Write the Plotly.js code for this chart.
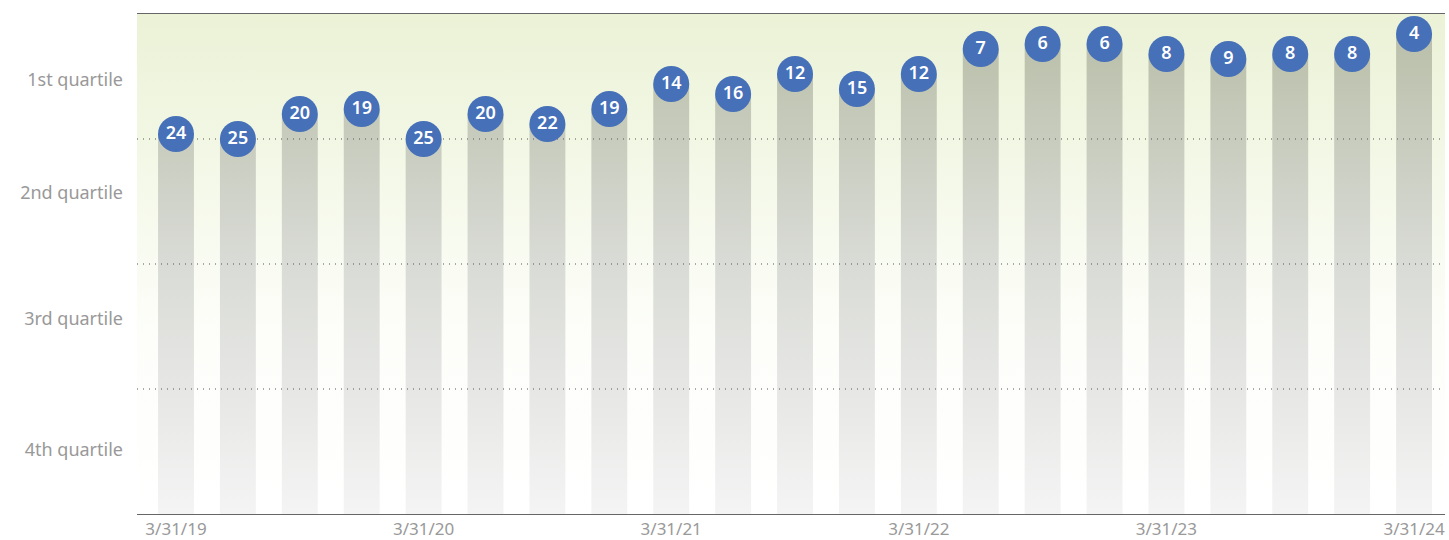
<!DOCTYPE html>
<html>
<head>
<meta charset="utf-8">
<script src="https://cdn.plot.ly/plotly-3.0.1.min.js"></script>
<style>
html,body{margin:0;padding:0;background:#fff;}
#chart{width:1449px;height:540px;}
</style>
</head>
<body>
<div id="chart"></div>
<script>
// Quarter-end dates (category labels)
const quarters = ["3/31/19","6/30/19","9/30/19","12/31/19","3/31/20","6/30/20","9/30/20","12/31/20",
  "3/31/21","6/30/21","9/30/21","12/31/21","3/31/22","6/30/22","9/30/22","12/31/22",
  "3/31/23","6/30/23","9/30/23","12/31/23","3/31/24"];
// Percentile rank (lower = better)
const ranks = [24,25,20,19,25,20,22,19,14,16,12,15,12,7,6,6,8,9,8,8,4];
const xTickLabels = ["3/31/19","3/31/20","3/31/21","3/31/22","3/31/23","3/31/24"];
const quartileLabels = ["1st quartile","2nd quartile","3rd quartile","4th quartile"];
const quartileLabelPos = [13.2, 35.8, 61, 87.2];
const quartileBreaks = [25, 50, 75];

const idx = quarters.map((q, i) => i);
const xRange = [-0.63, 20.5];

const traces = [];
traces.push({
  type: "bar",
  x: idx,
  y: ranks.map(r => r - 100),
  base: 100,
  width: 0.58,
  marker: {color: "#c8cbc2"},
  hoverinfo: "skip",
  showlegend: false
});
quartileBreaks.forEach(b => {
  traces.push({
    type: "scatter", mode: "lines",
    x: xRange, y: [b, b],
    line: {color: "#555", width: 1.2, dash: "1px,5px"},
    hoverinfo: "skip", showlegend: false
  });
});
traces.push({
  type: "scatter",
  mode: "markers+text",
  x: idx,
  y: ranks,
  text: ranks.map(String),
  textposition: "middle center",
  textfont: {family: "Noto Sans, sans-serif", size: 18, color: "#ffffff", weight: 600},
  marker: {size: 36, color: "#4670b8", line: {width: 0}},
  hoverinfo: "skip",
  showlegend: false
});

const layout = {
  width: 1449, height: 540,
  margin: {l: 137, r: 4, t: 14, b: 26},
  paper_bgcolor: "#ffffff",
  plot_bgcolor: "#f4f7ea",
  font: {family: "Noto Sans, sans-serif", color: "#999"},
  xaxis: {
    type: "linear",
    range: xRange,
    tickvals: [0, 4, 8, 12, 16, 20],
    ticktext: xTickLabels,
    showgrid: false, zeroline: false,
    showline: true, mirror: true, linecolor: "#666", linewidth: 1,
    ticks: "",
    tickfont: {size: 17, color: "#999"}
  },
  yaxis: {
    range: [100, 0],
    tickvals: quartileLabelPos,
    ticktext: quartileLabels,
    showgrid: false, zeroline: false, showline: false,
    ticks: "", ticklen: 0,
    ticklabelstandoff: 13,
    tickfont: {size: 18, color: "#999"}
  },
  showlegend: false
};

Plotly.newPlot("chart", traces, layout, {displayModeBar: false, staticPlot: true}).then(gd => {
  const svg = gd.querySelector("svg.main-svg");
  const ns = "http://www.w3.org/2000/svg";
  let defs = svg.querySelector("defs");
  if (!defs) { defs = document.createElementNS(ns, "defs"); svg.insertBefore(defs, svg.firstChild); }
  function grad(id, stops, units, y1, y2) {
    const g = document.createElementNS(ns, "linearGradient");
    g.setAttribute("id", id);
    g.setAttribute("x1", "0"); g.setAttribute("x2", "0");
    g.setAttribute("y1", y1); g.setAttribute("y2", y2);
    g.setAttribute("gradientUnits", units);
    stops.forEach(s => {
      const st = document.createElementNS(ns, "stop");
      st.setAttribute("offset", s[0]);
      st.setAttribute("stop-color", s[1]);
      g.appendChild(st);
    });
    defs.appendChild(g);
  }
  const plotH = 540 - 14 - 26;
  grad("barGrad", [[0, "#b7bda6"], [0.5, "#d9dbd6"], [1, "#f4f4f4"]], "userSpaceOnUse", "0", String(plotH));
  grad("bgGrad", [[0, "#ebf2d6"], [0.35, "#f5f9ea"], [0.65, "#fdfefa"], [1, "#ffffff"]], "objectBoundingBox", "0", "1");
  gd.querySelectorAll(".barlayer .point path").forEach(p => { p.style.fill = "url(#barGrad)"; });
  const bg = gd.querySelector(".bglayer rect.bg");
  if (bg) bg.style.fill = "url(#bgGrad)";
});
</script>
</body>
</html>
